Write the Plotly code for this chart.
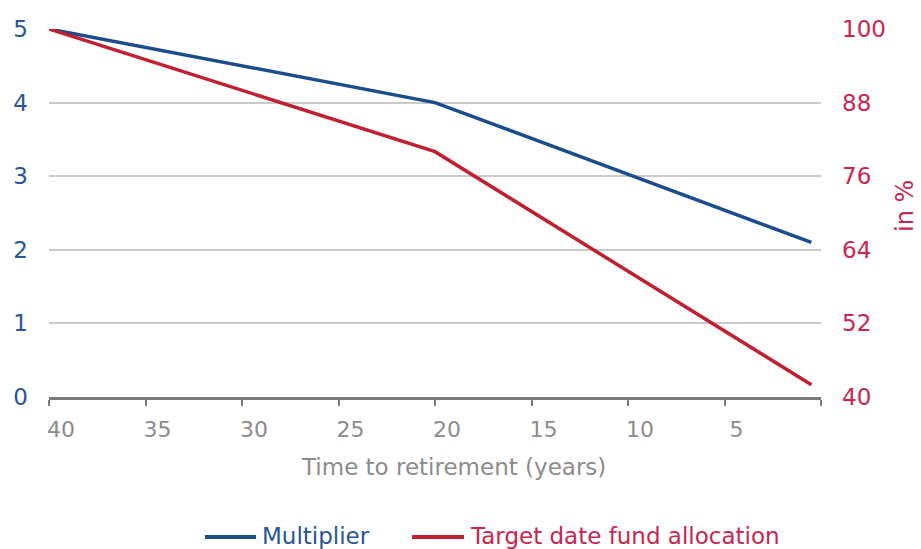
import plotly.graph_objects as go

# Years remaining until retirement (x axis runs from 40 down to 0)
years = [40, 20, 0.5]
multiplier = [5.0, 4.0, 2.1]
allocation_pct = [100, 80, 42]

x_ticks = [40, 35, 30, 25, 20, 15, 10, 5, 0]
x_tick_labels = ["40", "35", "30", "25", "20", "15", "10", "5", ""]
left_ticks = [0, 1, 2, 3, 4, 5]
right_ticks = [40, 52, 64, 76, 88, 100]

series_names = ["Multiplier", "Target date fund allocation"]

BLUE = "#1B4C8C"
RED = "#C21F30"
BLUE_TXT = "#2A5597"
RED_TXT = "#C9264F"
GREY_TXT = "#8C8C8C"
FONT = "DejaVu Sans, sans-serif"

L, R, T, B = 49, 100, 29, 152
W, H = 921, 549
PW, PH = W - L - R, H - T - B


def px_x(x):
    return (x - L) / PW


def px_y(y):
    return (H - B - y) / PH


fig = go.Figure()
fig.add_trace(go.Scatter(x=years, y=multiplier, mode="lines", name=series_names[0],
                         line=dict(color=BLUE, width=3.5)))
fig.add_trace(go.Scatter(x=years, y=allocation_pct, mode="lines",
                         name=series_names[1], yaxis="y2",
                         line=dict(color=RED, width=3.5)))

# soft shadow under the x axis line
for i, a in enumerate([0.12, 0.09, 0.07, 0.05, 0.035, 0.02]):
    fig.add_shape(type="line", xref="x", yref="y", x0=40, x1=0,
                  y0=-(0.02 + i * 0.02), y1=-(0.02 + i * 0.02),
                  line=dict(color=f"rgba(0,0,0,{a})", width=1.6), layer="below")

fig.update_layout(
    width=W, height=H,
    margin=dict(l=L, r=R, t=T, b=B, autoexpand=False),
    plot_bgcolor="white", paper_bgcolor="white",
    font=dict(family=FONT, size=21, color=GREY_TXT),
    xaxis=dict(range=[40, 0], tickvals=x_ticks, ticktext=x_tick_labels,
               showgrid=False, zeroline=False, showline=True, linecolor="#7A7A7A",
               linewidth=2.5, ticks="outside", ticklen=6, tickwidth=2, tickcolor="#7A7A7A",
               tickfont=dict(size=22, color=GREY_TXT), ticklabelshift=-12,
               ticklabelstandoff=5, automargin=False),
    yaxis=dict(range=[0, 5], tickvals=left_ticks, showgrid=True, gridcolor="#CACACA",
               gridwidth=2, zeroline=False, showline=False, automargin=False,
               tickfont=dict(size=23, color=BLUE_TXT), ticklabelstandoff=20),
    yaxis2=dict(range=[40, 100], tickvals=right_ticks, overlaying="y", side="right",
                showgrid=False, zeroline=False, showline=False, automargin=False,
                tickfont=dict(size=23, color=RED_TXT), ticklabelstandoff=20),
    showlegend=False,
)

fig.add_annotation(text="Time to retirement (years)", xref="paper", yref="paper",
                   x=px_x(453), y=px_y(467),
                   showarrow=False, font=dict(size=23, color=GREY_TXT),
                   xanchor="center", yanchor="middle")
fig.add_annotation(text="in %", xref="paper", yref="paper",
                   x=px_x(905), y=px_y(206),
                   showarrow=False, textangle=-90, font=dict(size=24, color=RED_TXT),
                   xanchor="center", yanchor="middle")

# legend row below the axis title
legend_y = 537
for name, line_col, txt_col, x0, x1 in [
    (series_names[0], BLUE, BLUE_TXT, 205, 256),
    (series_names[1], RED, RED_TXT, 412, 464),
]:
    fig.add_shape(type="line", xref="paper", yref="paper",
                  x0=px_x(x0), x1=px_x(x1), y0=px_y(legend_y), y1=px_y(legend_y),
                  line=dict(color=line_col, width=4))
    fig.add_annotation(text=name, xref="paper", yref="paper",
                       x=px_x(x1 + 4), y=px_y(legend_y - 1), showarrow=False,
                       xanchor="left", yanchor="middle",
                       font=dict(size=23, color=txt_col))

fig.write_html("out.html")
